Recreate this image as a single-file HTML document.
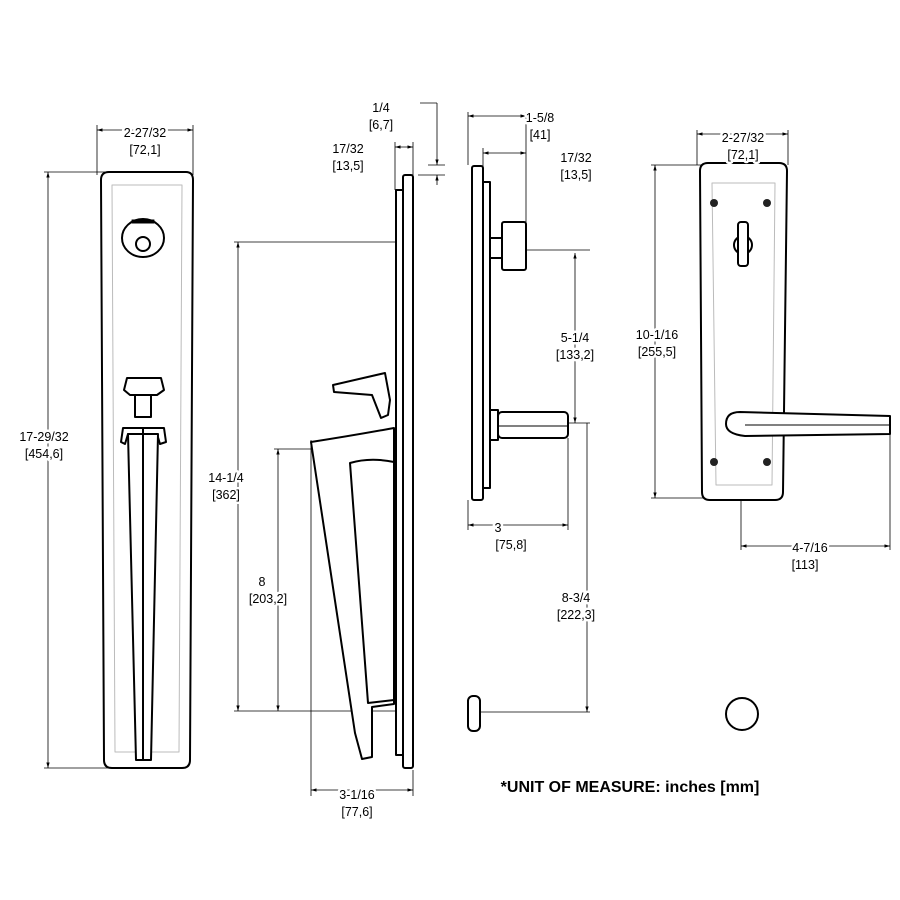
<!DOCTYPE html>
<html><head><style>body{margin:0;background:#fff}svg{display:block}</style></head><body>
<svg width="900" height="900" viewBox="0 0 900 900" xmlns="http://www.w3.org/2000/svg" font-family="Liberation Sans, sans-serif" font-size="12.5" text-anchor="middle">
<defs><marker id="a" viewBox="0 0 10 10" refX="10" refY="5" markerWidth="7" markerHeight="7" orient="auto-start-reverse"><path d="M0,2 L10,5 L0,8z" fill="#000"/></marker></defs>
<g stroke="#000" stroke-width="0.8" fill="none">
<line x1="97" y1="130" x2="193" y2="130" marker-start="url(#a)" marker-end="url(#a)"/>
<line x1="97" y1="125" x2="97" y2="175"/><line x1="193" y1="125" x2="193" y2="175"/>
<line x1="48" y1="172" x2="48" y2="768" marker-start="url(#a)" marker-end="url(#a)"/>
<line x1="44" y1="172" x2="108" y2="172"/><line x1="44" y1="768" x2="108" y2="768"/>
<line x1="238" y1="242" x2="238" y2="711" marker-start="url(#a)" marker-end="url(#a)"/>
<line x1="234" y1="242" x2="403" y2="242"/><line x1="234" y1="711" x2="395" y2="711"/>
<line x1="278" y1="449" x2="278" y2="711" marker-start="url(#a)" marker-end="url(#a)"/>
<line x1="274" y1="449" x2="372" y2="449"/>
<line x1="311" y1="790" x2="413" y2="790" marker-start="url(#a)" marker-end="url(#a)"/>
<line x1="311" y1="440" x2="311" y2="796"/><line x1="413" y1="770" x2="413" y2="796"/>
<line x1="395" y1="147" x2="413" y2="147" marker-start="url(#a)" marker-end="url(#a)"/>
<line x1="395" y1="142" x2="395" y2="190"/><line x1="413" y1="142" x2="413" y2="175"/>
<line x1="420" y1="103" x2="437" y2="103"/><line x1="437" y1="103" x2="437" y2="165" marker-end="url(#a)"/>
<line x1="437" y1="185" x2="437" y2="175" marker-end="url(#a)"/>
<line x1="428" y1="165" x2="445" y2="165"/><line x1="418" y1="175" x2="445" y2="175"/>
<line x1="468" y1="116" x2="526" y2="116" marker-start="url(#a)" marker-end="url(#a)"/>
<line x1="468" y1="112" x2="468" y2="165"/><line x1="526" y1="112" x2="526" y2="222"/>
<line x1="483" y1="153" x2="526" y2="153" marker-start="url(#a)" marker-end="url(#a)"/>
<line x1="483" y1="148" x2="483" y2="180"/>
<line x1="575" y1="253" x2="575" y2="423" marker-start="url(#a)" marker-end="url(#a)"/>
<line x1="505" y1="250" x2="590" y2="250"/><line x1="568" y1="423" x2="590" y2="423"/>
<line x1="587" y1="423" x2="587" y2="712" marker-end="url(#a)"/>
<line x1="480" y1="712" x2="590" y2="712"/>
<line x1="468" y1="525" x2="568" y2="525" marker-start="url(#a)" marker-end="url(#a)"/>
<line x1="468" y1="500" x2="468" y2="530"/><line x1="568" y1="438" x2="568" y2="530"/>
<line x1="697" y1="134" x2="788" y2="134" marker-start="url(#a)" marker-end="url(#a)"/>
<line x1="697" y1="130" x2="697" y2="165"/><line x1="788" y1="130" x2="788" y2="165"/>
<line x1="655" y1="165" x2="655" y2="498" marker-start="url(#a)" marker-end="url(#a)"/>
<line x1="651" y1="165" x2="705" y2="165"/><line x1="651" y1="498" x2="705" y2="498"/>
<line x1="741" y1="546" x2="890" y2="546" marker-start="url(#a)" marker-end="url(#a)"/>
<line x1="741" y1="438" x2="741" y2="550"/><line x1="890" y1="432" x2="890" y2="550"/>
</g>
<g stroke="#000" stroke-width="2" fill="#fff" stroke-linejoin="round">
<path d="M109,172 L186,172 Q193,172 193,180 L190,760 Q190,768 182,768 L112,768 Q104,768 104,760 L101,180 Q101,172 109,172z"/>
<path d="M112,185 L182,185 L179,752 L115,752z" stroke="#bbb" stroke-width="1"/>
<ellipse cx="143" cy="238" rx="21" ry="19"/>
<rect x="132" y="220" width="22" height="3" fill="#000" stroke-width="1"/>
<circle cx="143" cy="244" r="7"/>
<path d="M127,378 L161,378 L164,390 L157,395 L130,395 L124,390z"/>
<rect x="135" y="395" width="16" height="22"/>
<path d="M123,428 L164,428 L166,442 L160,444 L157,434 L128,434 L125,444 L121,442z"/>
<path d="M128,434 L158,434 L151,760 L136,760z"/>
<line x1="143" y1="428" x2="143" y2="760"/>
<rect x="403" y="175" width="10" height="593" rx="2"/>
<rect x="396" y="190" width="7" height="565"/>
<path d="M333,385 L385,373 L390,400 L388,415 L381,418 L372,395 L334,392z"/>
<path d="M311,442 Q350,436 394,428 L394,704 L372,707 L372,757 L362,759 L355,733z"/>
<path d="M350,463 Q370,457 394,462 L394,700 L368,703z" />
<rect x="472" y="166" width="11" height="334" rx="2"/>
<rect x="483" y="182" width="7" height="306"/>
<rect x="490" y="238" width="12" height="20"/>
<rect x="502" y="222" width="24" height="48" rx="2"/>
<rect x="490" y="410" width="8" height="30"/>
<rect x="498" y="412" width="70" height="26" rx="4"/>
<line x1="498" y1="426" x2="568" y2="426" stroke-width="1"/>
<rect x="468" y="696" width="12" height="35" rx="5"/>
<path d="M708,163 L779,163 Q787,163 787,171 L783,492 Q783,500 775,500 L710,500 Q702,500 702,492 L700,171 Q700,163 708,163z"/>
<path d="M712,183 L775,183 L772,485 L716,485z" stroke="#bbb" stroke-width="1"/>
<circle cx="743" cy="245" r="9"/>
<rect x="738" y="222" width="10" height="44" rx="3"/>
<path d="M740,412 L890,416 L890,434 L745,436 Q726,434 726,424 Q726,412 740,412z"/>
<line x1="745" y1="425" x2="890" y2="425" stroke-width="1"/>
<circle cx="742" cy="714" r="16"/>
</g>
<g fill="#222">
<circle cx="714" cy="203" r="4"/><circle cx="767" cy="203" r="4"/>
<circle cx="714" cy="462" r="4"/><circle cx="767" cy="462" r="4"/>
</g>
<g fill="#000" stroke="#fff" stroke-width="5" paint-order="stroke" stroke-linejoin="round">
<text x="145" y="137">2-27/32</text><text x="145" y="154">[72,1]</text>
<text x="44" y="441">17-29/32</text><text x="44" y="458">[454,6]</text>
<text x="381" y="112">1/4</text><text x="381" y="129">[6,7]</text>
<text x="348" y="153">17/32</text><text x="348" y="170">[13,5]</text>
<text x="226" y="482">14-1/4</text><text x="226" y="499">[362]</text>
<text x="262" y="586">8</text><text x="268" y="603">[203,2]</text>
<text x="357" y="799">3-1/16</text><text x="357" y="816">[77,6]</text>
<text x="540" y="122">1-5/8</text><text x="540" y="139">[41]</text>
<text x="576" y="162">17/32</text><text x="576" y="179">[13,5]</text>
<text x="575" y="342">5-1/4</text><text x="575" y="359">[133,2]</text>
<text x="498" y="532">3</text><text x="511" y="549">[75,8]</text>
<text x="576" y="602">8-3/4</text><text x="576" y="619">[222,3]</text>
<text x="743" y="142">2-27/32</text><text x="743" y="159">[72,1]</text>
<text x="657" y="339">10-1/16</text><text x="657" y="356">[255,5]</text>
<text x="810" y="552">4-7/16</text><text x="805" y="569">[113]</text>
<text x="630" y="792" font-size="16" font-weight="bold" stroke-width="0">*UNIT OF MEASURE: inches [mm]</text>
</g>
</svg>
</body></html>
